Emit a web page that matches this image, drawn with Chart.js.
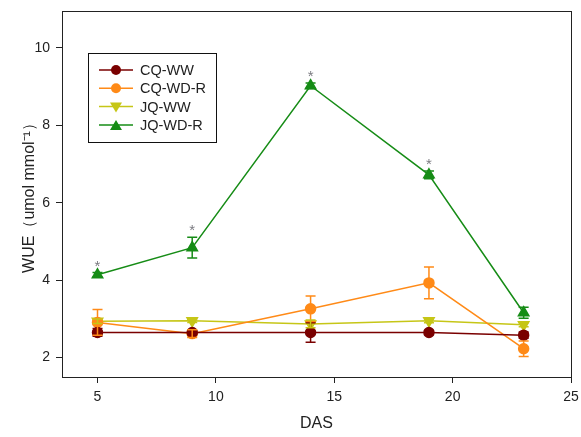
<!DOCTYPE html>
<html lang="en">
<head>
    <meta charset="UTF-8">
    <title>WUE</title>
    <script src="https://cdn.jsdelivr.net/npm/chart.js"></script>
    <style>
        html, body { margin: 0; padding: 0; background: #fff; }
        #wrap { width: 581px; height: 437px; }
    </style>
</head>
<body>
    <div id="wrap"><canvas id="wueChart" width="581" height="437"></canvas></div>

    <script>
        // data
        const das = [5, 9, 14, 19, 23];
        const seriesNames = ['CQ-WW', 'CQ-WD-R', 'JQ-WW', 'JQ-WD-R'];
        const cqWW = [2.65, 2.65, 2.65, 2.65, 2.58];
        const cqWWErr = [0.1, 0.05, 0.25, 0.06, 0.08];
        const cqWDR = [2.91, 2.62, 3.26, 3.93, 2.23];
        const cqWDRErr = [0.33, 0.1, 0.33, 0.41, 0.2];
        const jqWW = [2.94, 2.95, 2.87, 2.95, 2.85];
        const jqWWErr = [0.06, 0.04, 0.1, 0.05, 0.05];
        const jqWDR = [4.14, 4.84, 9.02, 6.72, 3.16];
        const jqWDRErr = [0.06, 0.27, 0.07, 0.1, 0.14];
        const starred = [true, true, true, true, false];
        const xTicks = [5, 10, 15, 20, 25];
        const yTicks = [2, 4, 6, 8, 10];

        const colors = ['#7a0000', '#ff8a17', '#c6c617', '#168c16'];
        const styles = ['circle', 'circle', 'triangle', 'triangle'];
        const rotations = [0, 0, 180, 0];
        const values = [cqWW, cqWDR, jqWW, jqWDR];
        const errors = [cqWWErr, cqWDRErr, jqWWErr, jqWDRErr];
        const font = '"Liberation Sans", Arial, sans-serif';

        const datasets = seriesNames.map((name, i) => ({
            label: name,
            data: das.map((x, j) => ({ x: x, y: values[i][j] })),
            errors: errors[i],
            borderColor: colors[i],
            backgroundColor: colors[i],
            pointBackgroundColor: colors[i],
            pointBorderColor: colors[i],
            pointStyle: styles[i],
            rotation: rotations[i],
            pointRadius: styles[i] === 'circle' ? 5 : 6,
            borderWidth: 1.5,
            tension: 0
        }));

        // error bars with caps, stars, frame
        const errorBars = {
            id: 'errorBars',
            afterDatasetsDraw(chart) {
                const ctx = chart.ctx;
                const xs = chart.scales.x, ys = chart.scales.y;
                chart.data.datasets.forEach(ds => {
                    ctx.save();
                    ctx.strokeStyle = ds.borderColor;
                    ctx.lineWidth = 1.5;
                    ds.data.forEach((p, j) => {
                        const e = ds.errors[j];
                        const px = xs.getPixelForValue(p.x);
                        const top = ys.getPixelForValue(p.y + e);
                        const bot = ys.getPixelForValue(p.y - e);
                        ctx.beginPath();
                        ctx.moveTo(px, top); ctx.lineTo(px, bot);
                        ctx.moveTo(px - 5, top); ctx.lineTo(px + 5, top);
                        ctx.moveTo(px - 5, bot); ctx.lineTo(px + 5, bot);
                        ctx.stroke();
                    });
                    ctx.restore();
                });

                ctx.save();
                ctx.fillStyle = '#7a7a80';
                ctx.font = '15px ' + font;
                ctx.textAlign = 'center';
                ctx.textBaseline = 'middle';
                das.forEach((x, j) => {
                    if (!starred[j]) return;
                    const px = xs.getPixelForValue(x);
                    const py = ys.getPixelForValue(jqWDR[j] + jqWDRErr[j]);
                    ctx.fillText('*', px, py - 6);
                });
                ctx.restore();

                const a = chart.chartArea;
                ctx.save();
                ctx.strokeStyle = '#222';
                ctx.lineWidth = 1;
                ctx.strokeRect(a.left + 0.5, a.top + 0.5, a.right - a.left, a.bottom - a.top);
                ctx.restore();
            }
        };

        // legend box like the original
        const boxLegend = {
            id: 'boxLegend',
            afterDraw(chart) {
                const ctx = chart.ctx;
                ctx.save();
                ctx.strokeStyle = '#111';
                ctx.lineWidth = 1;
                ctx.strokeRect(88.5, 53.5, 128, 89);
                ctx.font = '14.5px ' + font;
                ctx.textBaseline = 'middle';
                seriesNames.forEach((name, i) => {
                    const y = 70 + i * 18.3;
                    ctx.strokeStyle = colors[i];
                    ctx.lineWidth = 1.5;
                    ctx.beginPath();
                    ctx.moveTo(99, y); ctx.lineTo(133, y);
                    ctx.stroke();
                    ctx.fillStyle = colors[i];
                    ctx.beginPath();
                    if (styles[i] === 'circle') {
                        ctx.arc(116, y, 5, 0, Math.PI * 2);
                    } else if (rotations[i] === 180) {
                        ctx.moveTo(110, y - 4); ctx.lineTo(122, y - 4); ctx.lineTo(116, y + 6);
                    } else {
                        ctx.moveTo(110, y + 5); ctx.lineTo(122, y + 5); ctx.lineTo(116, y - 5);
                    }
                    ctx.closePath();
                    ctx.fill();
                    ctx.fillStyle = '#222';
                    ctx.fillText(name, 140, y + 1);
                });
                ctx.restore();
            }
        };

        const ctx = document.getElementById('wueChart').getContext('2d');
        const wueChart = new Chart(ctx, {
            type: 'line',
            data: { datasets: datasets },
            options: {
                responsive: false,
                animation: false,
                layout: { padding: { top: 11, right: 10, left: 16, bottom: 0 } },
                plugins: {
                    legend: { display: false },
                    tooltip: { enabled: false }
                },
                scales: {
                    x: {
                        type: 'linear',
                        min: 3.5,
                        max: 25,
                        afterBuildTicks: axis => { axis.ticks = xTicks.map(v => ({ value: v })); },
                        afterFit: axis => {
                            axis.height = 60;
                            axis.paddingLeft = 0;
                            axis.paddingRight = 0;
                        },
                        grid: { display: true, drawOnChartArea: false, drawTicks: true, tickLength: 6, tickColor: '#222' },
                        border: { color: '#222' },
                        ticks: {
                            color: '#222',
                            padding: 6,
                            font: { family: font, size: 14 }
                        },
                        title: {
                            display: true,
                            text: 'DAS',
                            color: '#222',
                            padding: { top: 8 },
                            font: { family: font, size: 16 }
                        }
                    },
                    y: {
                        min: 1.5,
                        max: 10.95,
                        afterBuildTicks: axis => { axis.ticks = yTicks.map(v => ({ value: v })); },
                        afterFit: axis => {
                            axis.width = 46;
                            axis.paddingTop = 0;
                            axis.paddingBottom = 0;
                        },
                        grid: { display: true, drawOnChartArea: false, drawTicks: true, tickLength: 6, tickColor: '#222' },
                        border: { color: '#222' },
                        ticks: {
                            color: '#222',
                            padding: 6,
                            font: { family: font, size: 14 }
                        },
                        title: {
                            display: true,
                            text: 'WUE（umol mmol⁻¹）',
                            color: '#222',
                            padding: { bottom: 2 },
                            font: { family: font, size: 16 }
                        }
                    }
                }
            },
            plugins: [errorBars, boxLegend]
        });
    </script>
</body>
</html>
